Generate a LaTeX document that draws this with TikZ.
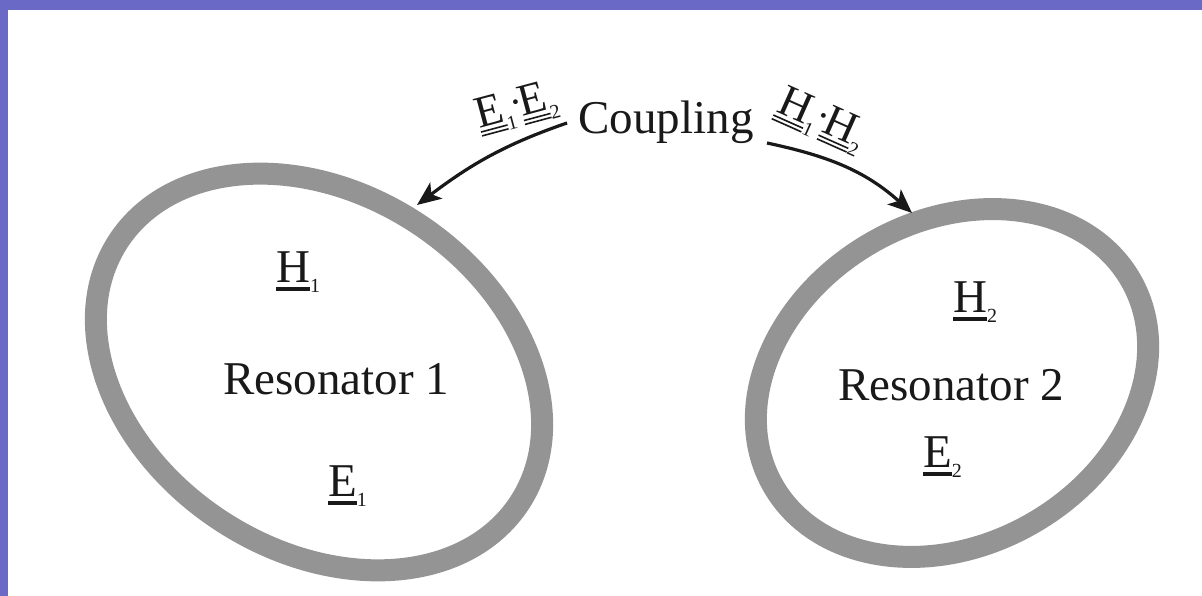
\documentclass[tikz,border=0pt]{standalone}
\usepackage{fontspec}
\setmainfont{Liberation Serif}
\usetikzlibrary{shapes.geometric,arrows.meta}
\definecolor{frameblue}{RGB}{106,106,198}
\definecolor{ringgray}{RGB}{148,148,148}
\definecolor{ink}{RGB}{25,25,25}
\newcommand{\ulet}[1]{\setbox0\hbox{#1}\rlap{\rule[-8pt]{\wd0}{4pt}}\box0}
\newcommand{\uletdbl}[1]{\setbox0\hbox{#1}\rlap{\rule[-5pt]{\wd0}{1.6pt}}\rlap{\rule[-9pt]{\wd0}{1.6pt}}\box0}
\newcommand{\subsc}[1]{\raisebox{-10pt}{\fontsize{20}{20}\selectfont #1}}
\newcommand{\dotop}{\raisebox{9pt}{\fontsize{20}{20}\selectfont •}}
\begin{document}
\begin{tikzpicture}[x=1pt,y=1pt,
  ring/.style={draw=ringgray, line width=22pt, ellipse, inner sep=0pt},
  bigtext/.style={font=\fontsize{47}{56}\selectfont, text=ink, inner sep=0pt},
  lbltext/.style={font=\fontsize{45}{54}\selectfont, text=ink, inner sep=0pt},
  conn/.style={draw=ink, line width=3.2pt, -{Stealth[length=24pt,width=20pt,inset=6pt]}}
]
\useasboundingbox (0,0) rectangle (1202,596);
\fill[white] (0,0) rectangle (1202,596);
\fill[frameblue] (0,586) rectangle (1202,596);
\fill[frameblue] (0,0) rectangle (8,596);

% resonators
\node[ring, minimum width=479pt, minimum height=356.4pt, rotate=-33] (r1) at (319,224) {};
\node[ring, minimum width=412.6pt, minimum height=323.4pt, rotate=30] (r2) at (952,213) {};

% texts
\node[bigtext, anchor=base] (t1) at (336,201) {Resonator 1};
\node[bigtext, anchor=base] (t2) at (951,195) {Resonator 2};
\node[bigtext, anchor=base] (coup) at (666,462) {Coupling};
\node[bigtext, anchor=base west] (h1) at (276,313) {\ulet{H}\subsc{1}};
\node[bigtext, anchor=base west] (e1) at (328,99) {\ulet{E}\subsc{1}};
\node[bigtext, anchor=base west] (h2) at (953,283) {\ulet{H}\subsc{2}};
\node[bigtext, anchor=base west] (e2) at (923,128) {\ulet{E}\subsc{2}};
\node[lbltext, rotate=15] (le) at (517,488) {\uletdbl{E}\subsc{1}\dotop\uletdbl{E}\subsc{2}};
\node[lbltext, rotate=-24] (lh) at (821,475) {\uletdbl{H}\subsc{1}\dotop\uletdbl{H}\subsc{2}};

% coupling arrows
\coordinate (a1s) at (567,473);
\coordinate (a1e) at (417,391);
\coordinate (a2s) at (767,453);
\coordinate (a2e) at (912,383);
\draw[conn] (a1s) to[out=199,in=37] (a1e);
\draw[conn] (a2s) to[out=-12,in=138] (a2e);
\end{tikzpicture}
\end{document}
